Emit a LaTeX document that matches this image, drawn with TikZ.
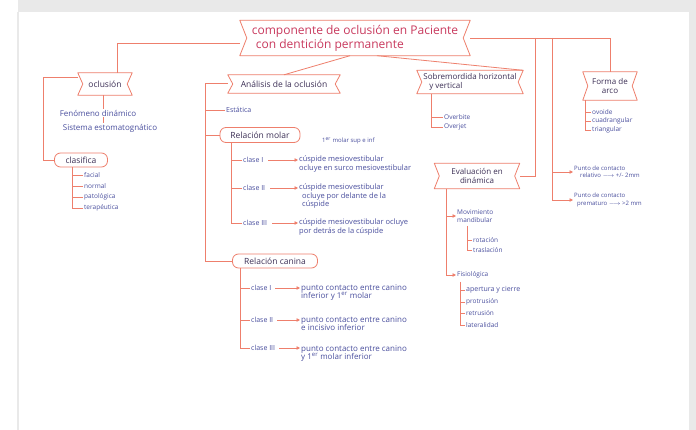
\documentclass[tikz,border=0pt]{standalone}
\usepackage{fontspec}
\setmainfont{Open Sans}
\usetikzlibrary{arrows.meta,calc}
\definecolor{lc}{HTML}{EE7F6C}
\definecolor{tx}{HTML}{4A4F9E}
\definecolor{hd}{HTML}{3C2F55}
\definecolor{tt}{HTML}{C93A5E}
\definecolor{fr}{HTML}{E9E9E9}
\tikzset{
  ln/.style={draw=lc, line width=0.8pt},
  arr/.style={draw=lc, line width=0.8pt, -{Triangle[length=3.5pt,width=3.5pt]}},
  banner/.style={inner sep=1pt, align=center, text=hd, font=\fontsize{8.5}{9.5}\selectfont},
  pill/.style={draw=lc, line width=0.8pt, rounded corners=6pt, inner sep=1pt, text=hd, font=\fontsize{8.5}{9.5}\selectfont},
  itm/.style={anchor=west, inner sep=1pt, text=tx, font=\fontsize{6.5}{7.5}\selectfont, align=left},
  itmnw/.style={anchor=north west, inner sep=1pt, text=tx, font=\fontsize{7.5}{8.2}\selectfont, align=left},
}
\begin{document}
\begin{tikzpicture}[x=1pt,y=-1pt]
\useasboundingbox (0,0) rectangle (696,430);
\fill[white] (0,0) rectangle (696,430);
\fill[fr] (18,0) rectangle (696,12);
\fill[fr] (689,0) rectangle (696,430);
\draw[fr, line width=1.2pt] (18,12) -- (18,430);

% banners
\node[banner, minimum width=230pt, minimum height=35pt, font=\fontsize{12}{14}\selectfont, text=tt, align=left] (title) at (355,38) {componente de oclusión en Paciente\\\hspace*{4pt}con dentición permanente};
\node[banner, minimum width=54pt, minimum height=22pt] (ocl) at (105,84) {oclusión};
\node[banner, minimum width=112pt, minimum height=18pt] (ana) at (284,84) {Análisis de la oclusión};
\node[banner, minimum width=106pt, minimum height=23pt, align=left, font=\fontsize{8}{9}\selectfont] (sob) at (470,82) {Sobremordida horizontal\\\hspace*{6pt}y vertical};
\node[banner, minimum width=85pt, minimum height=25pt, font=\fontsize{8}{9.5}\selectfont] (eva) at (477,176) {Evaluación en\\dinámica};
\node[banner, minimum width=54pt, minimum height=28pt, font=\fontsize{8}{9.5}\selectfont] (forma) at (610,86) {Forma de\\arco};
\foreach \n/\d in {title/7pt,ocl/5pt,ana/5pt,sob/5pt,eva/5pt,forma/5pt}
  \draw[ln, line join=round] (\n.north west) -- (\n.north east) -- ([xshift=-\d]\n.east) -- (\n.south east) -- (\n.south west) -- ([xshift=\d]\n.west) -- cycle;

% pills
\node[pill, minimum width=53pt, minimum height=14pt] (clas) at (81,160) {clasifica};
\node[pill, minimum width=80pt, minimum height=15pt] (rmol) at (260,135) {Relación molar};
\node[pill, minimum width=85pt, minimum height=14pt] (rcan) at (275,261) {Relación canina};

% oclusion branch
\node[itm, anchor=center, font=\fontsize{8}{9}\selectfont] (fen) at (98,113) {Fenómeno dinámico};
\node[itm, anchor=center, font=\fontsize{8}{9}\selectfont] (sis) at (110,128) {Sistema estomatognático};
\node[itm] (k1) at (83,175) {facial};
\node[itm] (k2) at (83,186) {normal};
\node[itm] (k3) at (83,197) {patológica};
\node[itm] (k4) at (83,208) {terapéutica};

% analisis branch
\node[itm, font=\fontsize{7}{8}\selectfont] (est) at (225,110) {Estática};
\node[itm, font=\fontsize{6}{7}\selectfont] (mol) at (321,141) {1$^{\mathrm{er}}$ molar sup e inf};
\node[itm, font=\fontsize{7}{8}\selectfont] (m1) at (242,160) {clase I};
\node[itm, font=\fontsize{7}{8}\selectfont] (m2) at (242,188) {clase II};
\node[itm, font=\fontsize{7}{8}\selectfont] (m3) at (242,223) {clase III};
\node[itmnw] (m1t) at (298,155) {cúspide mesiovestibular\\ocluye en surco mesiovestibular};
\node[itmnw] (m2t) at (298,183) {cúspide mesiovestibular\\\hspace*{3pt}ocluye por delante de la\\\hspace*{3pt}cúspide};
\node[itmnw] (m3t) at (298,218) {cúspide mesiovestibular ocluye\\por detrás de la cúspide};
\node[itm, font=\fontsize{7}{8}\selectfont] (c1) at (250,288) {clase I};
\node[itm, font=\fontsize{7}{8}\selectfont] (c2) at (250,320) {clase II};
\node[itm, font=\fontsize{7}{8}\selectfont] (c3) at (250,348) {clase III};
\node[itmnw, font=\fontsize{8}{8.5}\selectfont] (c1t) at (300,283) {punto contacto entre canino\\inferior y 1$^{\mathrm{er}}$ molar};
\node[itmnw, font=\fontsize{8}{8.5}\selectfont] (c2t) at (300,315) {punto contacto entre canino\\e incisivo inferior};
\node[itmnw, font=\fontsize{8}{8.5}\selectfont] (c3t) at (300,344) {punto contacto entre canino\\y 1$^{\mathrm{er}}$ molar inferior};

% sobremordida
\node[itm] (ob1) at (443,117) {Overbite};
\node[itm] (ob2) at (443,127) {Overjet};

% evaluacion
\node[itm] (mov) at (456,216) {Movimiento\\mandibular};
\node[itm] (r1) at (472,240) {rotación};
\node[itm] (r2) at (472,250) {traslación};
\node[itm] (fis) at (456,275) {Fisiológica};
\node[itm, font=\fontsize{7}{8}\selectfont] (a1) at (465,290) {apertura y cierre};
\node[itm] (a2) at (465,302) {protrusión};
\node[itm] (a3) at (465,313) {retrusión};
\node[itm] (a4) at (465,325) {lateralidad};

% forma de arco
\node[itm] (f1) at (591,112) {ovoide};
\node[itm] (f2) at (591,121) {cuadrangular};
\node[itm] (f3) at (591,130) {triangular};
\node[itm, font=\fontsize{6}{7.5}\selectfont] (pc1) at (573,172) {Punto de contacto\\\hspace*{6pt}relativo $\longrightarrow$ +/- 2mm};
\node[itm, font=\fontsize{6}{7.5}\selectfont] (pc2) at (573,200) {Punto de contacto\\\hspace*{3pt}prematuro $\longrightarrow$ >2 mm};

% connectors from title
\coordinate (tl) at (117,43);
\draw[ln] (tl -| title.west) -- (tl) -- (tl |- ocl.north);
\draw[ln] ([xshift=-5pt]title.south) -- (ana.north);
\draw[ln] ([xshift=22pt]title.south) -- (sob.north east);
\draw[ln] (title.east) -| (forma.north);
\coordinate (j1) at (535,38);
\coordinate (j2) at (552,38);
\draw[ln] (j1) |- (eva.east);
\coordinate (j2b) at (552,200);
\draw[ln] (j2) -- (j2b);
\draw[arr] (j2 |- pc1.west) -- (pc1.west);
\draw[arr] (j2b) -- (pc2.west);

% oclusion
\coordinate (ol) at (43,77);
\draw[ln] (ocl.west |- ol) -- (ol) |- (clas.west);
\draw[ln] ([xshift=-2pt]ocl.south) -- ([xshift=-2pt]ocl.south |- fen.north);
\draw[ln] ([xshift=-2pt]ocl.south |- fen.south) -- ([xshift=-2pt]ocl.south |- sis.north);
\coordinate (kv) at ([xshift=18pt]clas.south west);
\draw[ln] (kv) |- (k4.west);
\foreach \k in {k1,k2,k3} \draw[ln] (kv |- \k.west) -- (\k.west);

% analisis
\coordinate (mv) at (205,83);
\draw[ln] (ana.west |- mv) -- (mv) |- (rcan.west);
\draw[ln] (mv |- est.west) -- (est.west);
\draw[ln] (mv |- rmol.west) -- (rmol.west);
\coordinate (mv2) at ([xshift=12pt]rmol.south west);
\draw[ln] (mv2) |- (m3.west);
\foreach \k in {m1,m2} \draw[ln] (mv2 |- \k.west) -- (\k.west);
\foreach \k in {m1,m2,m3} \draw[arr] ([xshift=4pt]\k.east) -- (\k.east -| \k t.west);
\coordinate (cv) at ([xshift=8pt]rcan.south west);
\draw[ln] (cv) |- (c3.west);
\foreach \k in {c1,c2} \draw[ln] (cv |- \k.west) -- (\k.west);
\foreach \k in {c1,c2,c3} \draw[arr] ([xshift=3pt]\k.east) -- (\k.east -| \k t.west);

% sobremordida
\coordinate (sv) at ([xshift=15pt]sob.south west);
\draw[ln] (sv) |- (ob2.west);
\draw[ln] (sv |- ob1.west) -- (ob1.west);

% evaluacion
\coordinate (ev) at ([xshift=12pt]eva.south west);
\draw[ln] (ev) -- (ev |- fis.west);
\draw[arr] (ev |- mov.west) -- (mov.west);
\draw[arr] (ev |- fis.west) -- (fis.west);
\coordinate (rv) at (467,226);
\draw[ln] (rv) |- (r2.west);
\draw[ln] (rv |- r1.west) -- (r1.west);
\coordinate (fv2) at (460,282);
\draw[ln] (fv2) |- (a4.west);
\foreach \k in {a1,a2,a3} \draw[ln] (fv2 |- \k.west) -- (\k.west);

% forma
\coordinate (fv) at ([xshift=3pt]forma.south west);
\draw[ln] (fv) |- (f3.west);
\foreach \k in {f1,f2} \draw[ln] (fv |- \k.west) -- (\k.west);
\end{tikzpicture}
\end{document}
